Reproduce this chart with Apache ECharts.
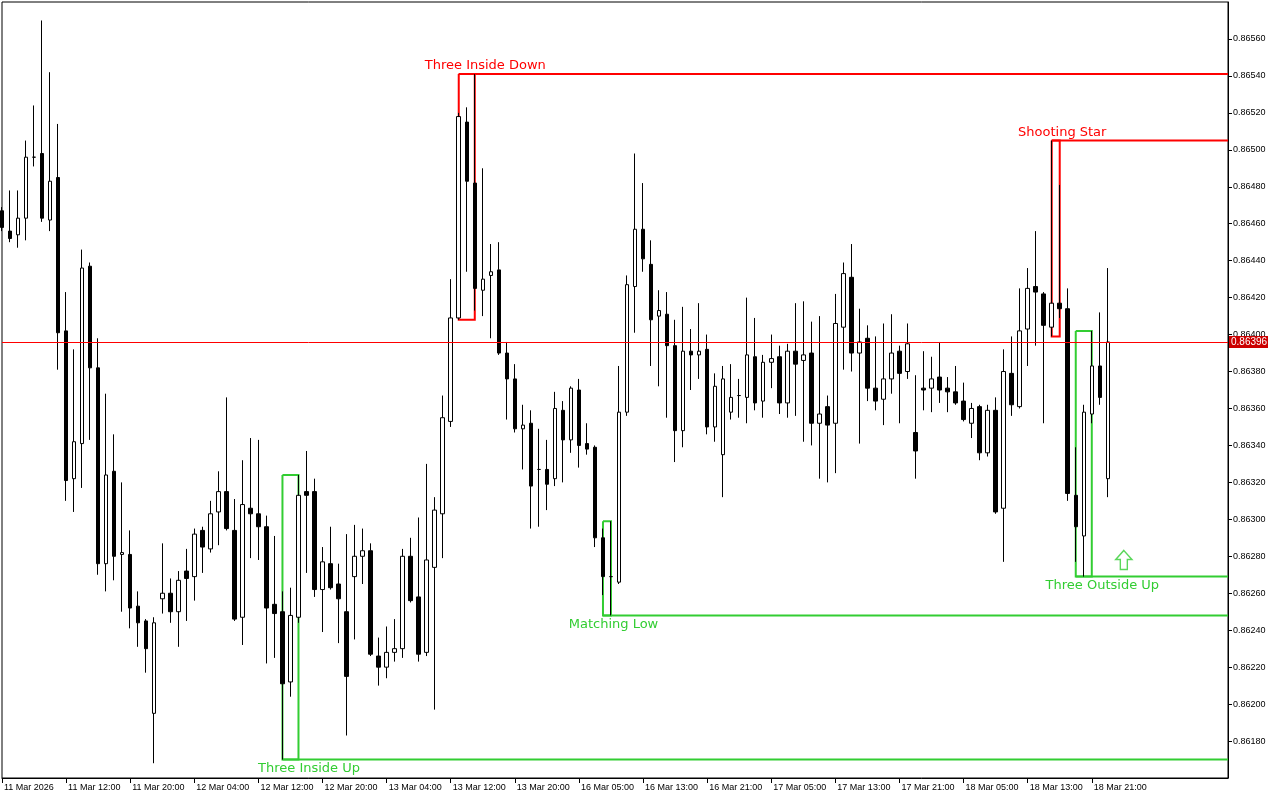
<!DOCTYPE html>
<html>
<head>
<meta charset="utf-8">
<script src="https://cdn.jsdelivr.net/npm/echarts@6/dist/echarts.min.js"></script>
<style>
html,body{margin:0;padding:0;background:#fff;}
#chart{width:1280px;height:800px;}
</style>
</head>
<body>
<div id="chart"></div>
<script>
// ---- time axis (hourly bars, weekend gap) ----
const days = ['11 Mar','12 Mar','13 Mar','16 Mar','17 Mar','18 Mar'];
const dayFirstHour = [4,0,0,0,0,0];
const dayLastHour = [23,23,22,23,23,23];
const tickLabels = ['11 Mar 2026','11 Mar 12:00','11 Mar 20:00','12 Mar 04:00','12 Mar 12:00','12 Mar 20:00',
  '13 Mar 04:00','13 Mar 12:00','13 Mar 20:00','16 Mar 05:00','16 Mar 13:00','16 Mar 21:00',
  '17 Mar 05:00','17 Mar 13:00','17 Mar 21:00','18 Mar 05:00','18 Mar 13:00','18 Mar 21:00'];

// ---- OHLC values ----
const opens = [0.86467,0.86456,0.86454,0.86463,0.86496,0.86498,0.86462,0.86485,0.86402,0.86322,
0.86341,0.86437,0.86382,0.86276,0.86326,0.86281,0.86281,0.86253,0.86245,0.86195,
0.86257,0.86260,0.86250,0.86272,0.86269,0.86294,0.86284,0.86304,0.86315,0.86294,
0.86247,0.86306,0.86303,0.86296,0.86254,0.86250,0.86212,0.86247,0.86315,0.86315,
0.86262,0.86276,0.86265,0.86250,0.86269,0.86280,0.86283,0.86226,0.86220,0.86228,
0.86230,0.86280,0.86258,0.86228,0.86274,0.86303,0.86353,0.86409,0.86515,0.86482,
0.86424,0.86432,0.86435,0.86390,0.86376,0.86349,0.86352,0.86327,0.86327,0.86322,
0.86359,0.86343,0.86370,0.86341,0.86339,0.86290,0.86269,0.86266,0.86358,0.86426,
0.86457,0.86438,0.86410,0.86411,0.86394,0.86348,0.86391,0.86389,0.86392,0.86350,
0.86335,0.86358,0.86367,0.86366,0.86388,0.86364,0.86385,0.86388,0.86363,0.86391,
0.86386,0.86390,0.86352,0.86361,0.86352,0.86404,0.86431,0.86390,0.86398,0.86371,
0.86365,0.86376,0.86391,0.86380,0.86347,0.86371,0.86371,0.86377,0.86371,0.86369,
0.86364,0.86352,0.86361,0.86336,0.86359,0.86306,0.86379,0.86361,0.86403,0.86426,
0.86422,0.86404,0.86417,0.86414,0.86313,0.86291,0.86357,0.86383,0.86322];
const closes = [0.86458,0.86452,0.86463,0.86496,0.86496,0.86463,0.86483,0.86401,0.86321,0.86342,
0.86436,0.86382,0.86276,0.86324,0.86280,0.86282,0.86252,0.86244,0.86230,0.86244,
0.86260,0.86250,0.86267,0.86268,0.86292,0.86285,0.86303,0.86315,0.86295,0.86246,
0.86308,0.86303,0.86296,0.86252,0.86249,0.86211,0.86248,0.86313,0.86313,0.86262,
0.86277,0.86263,0.86257,0.86215,0.86280,0.86283,0.86227,0.86220,0.86228,0.86230,
0.86280,0.86256,0.86227,0.86278,0.86305,0.86355,0.86409,0.86518,0.86483,0.86425,
0.86430,0.86434,0.86390,0.86376,0.86349,0.86351,0.86318,0.86327,0.86319,0.86360,
0.86343,0.86371,0.86340,0.86338,0.86290,0.86269,0.86269,0.86358,0.86427,0.86457,
0.86441,0.86408,0.86413,0.86394,0.86348,0.86391,0.86389,0.86391,0.86350,0.86372,
0.86376,0.86366,0.86367,0.86389,0.86363,0.86385,0.86387,0.86363,0.86391,0.86384,
0.86389,0.86352,0.86357,0.86351,0.86406,0.86433,0.86390,0.86396,0.86371,0.86364,
0.86376,0.86390,0.86379,0.86395,0.86337,0.86370,0.86376,0.86370,0.86369,0.86363,
0.86354,0.86360,0.86336,0.86359,0.86304,0.86380,0.86362,0.86402,0.86425,0.86423,
0.86405,0.86417,0.86414,0.86314,0.86296,0.86358,0.86383,0.86366,0.86396];
const lows = [0.86456,0.86450,0.86447,0.86451,0.86491,0.86461,0.86456,0.86381,0.86310,0.86304,
0.86317,0.86343,0.86270,0.86261,0.86267,0.86250,0.86241,0.86231,0.86217,0.86168,
0.86249,0.86244,0.86231,0.86245,0.86256,0.86271,0.86282,0.86286,0.86294,0.86245,
0.86232,0.86279,0.86278,0.86222,0.86225,0.86170,0.86204,0.86244,0.86271,0.86258,
0.86239,0.86262,0.86233,0.86183,0.86235,0.86265,0.86226,0.86210,0.86214,0.86223,
0.86225,0.86255,0.86223,0.86226,0.86197,0.86279,0.86350,0.86408,0.86434,0.86413,
0.86410,0.86398,0.86389,0.86354,0.86347,0.86327,0.86295,0.86296,0.86305,0.86318,
0.86320,0.86336,0.86328,0.86335,0.86285,0.86259,0.86248,0.86265,0.86356,0.86401,
0.86434,0.86383,0.86372,0.86355,0.86331,0.86339,0.86370,0.86376,0.86346,0.86342,
0.86312,0.86354,0.86355,0.86352,0.86359,0.86355,0.86371,0.86357,0.86355,0.86356,
0.86342,0.86340,0.86322,0.86320,0.86325,0.86381,0.86380,0.86341,0.86364,0.86359,
0.86351,0.86368,0.86352,0.86376,0.86322,0.86359,0.86358,0.86363,0.86358,0.86362,
0.86353,0.86344,0.86332,0.86334,0.86303,0.86277,0.86356,0.86360,0.86383,0.86394,
0.86352,0.86399,0.86409,0.86310,0.86277,0.86269,0.86352,0.86362,0.86312];
const highs = [0.86469,0.86478,0.86478,0.86505,0.86524,0.86570,0.86542,0.86514,0.86423,0.86392,
0.86446,0.86439,0.86398,0.86368,0.86346,0.86320,0.86294,0.86261,0.86246,0.86247,
0.86287,0.86268,0.86272,0.86284,0.86295,0.86296,0.86310,0.86326,0.86366,0.86311,
0.86332,0.86344,0.86343,0.86302,0.86291,0.86261,0.86263,0.86324,0.86337,0.86322,
0.86285,0.86296,0.86276,0.86292,0.86297,0.86295,0.86287,0.86236,0.86242,0.86246,
0.86284,0.86290,0.86301,0.86330,0.86312,0.86367,0.86430,0.86520,0.86523,0.86541,
0.86490,0.86449,0.86450,0.86396,0.86384,0.86362,0.86359,0.86349,0.86343,0.86369,
0.86364,0.86372,0.86376,0.86352,0.86340,0.86295,0.86299,0.86383,0.86432,0.86498,
0.86482,0.86451,0.86424,0.86423,0.86408,0.86415,0.86403,0.86417,0.86400,0.86379,
0.86383,0.86384,0.86376,0.86420,0.86409,0.86389,0.86400,0.86394,0.86395,0.86417,
0.86418,0.86407,0.86410,0.86367,0.86422,0.86439,0.86449,0.86414,0.86405,0.86399,
0.86406,0.86411,0.86394,0.86406,0.86378,0.86391,0.86388,0.86396,0.86377,0.86383,
0.86374,0.86363,0.86362,0.86362,0.86366,0.86392,0.86399,0.86425,0.86436,0.86456,
0.86423,0.86505,0.86481,0.86425,0.86339,0.86362,0.86402,0.86412,0.86436];

// ---- candle patterns ----
const patternNames = ['Three Inside Up','Three Inside Down','Matching Low','Shooting Star','Three Outside Up'];
const patternStart = [35, 57, 75, 131, 134];
const patternEnd   = [37, 59, 76, 132, 136];
const patternBullish = [true, false, true, false, true];

// ---- signal arrow ----
const signalIndex = 140;
const signalPrice = 0.86278;

// ---- y axis ----
const yMin = 0.8616, yMax = 0.8658, yStep = 0.0002;

// build categories
const categories = [];
days.forEach((d, k) => {
  for (let h = dayFirstHour[k]; h <= dayLastHour[k]; h++) {
    categories.push(d + ' ' + (h < 10 ? '0' + h : h) + ':00');
  }
});
let padN = 0;
while (categories.length < 154) categories.push('pad' + (padN++));

const ohlc = opens.map((o, i) => [o, closes[i], lows[i], highs[i]]);
const patternData = patternNames.map((n, k) => {
  let hi = -Infinity, lo = Infinity;
  for (let i = patternStart[k]; i <= patternEnd[k]; i++) {
    hi = Math.max(hi, highs[i]); lo = Math.min(lo, lows[i]);
  }
  return [patternStart[k], patternEnd[k], hi, lo];
});
const lastPrice = closes[closes.length - 1];

const showTick = (index) => index % 8 === 0 && index / 8 < tickLabels.length;

const RED = '#ff0000', GREEN = '#32cd32';

function renderPattern(params, api) {
  const k = params.dataIndex;
  const i0 = api.value(0), i1 = api.value(1);
  const tl = api.coord([i0, api.value(2)]);
  const br = api.coord([i1, api.value(3)]);
  const cs = params.coordSys;
  const xr = cs.x + cs.width;
  const bull = patternBullish[k];
  const color = bull ? GREEN : RED;
  const band = api.size([1, 0])[0];
  const yExt = bull ? br[1] : tl[1];
  const cx = br[0] + 2.5 + band * (i1 - i0 - 1);
  return {
    type: 'group',
    children: [
      { type: 'polyline', shape: { points: [[tl[0], tl[1]], [br[0], tl[1]], [br[0], br[1]], [tl[0], br[1]], [tl[0], tl[1]]] },
        style: { stroke: color, lineWidth: 2, fill: null } },
      { type: 'line', shape: { x1: tl[0], y1: yExt, x2: xr, y2: yExt }, style: { stroke: color, lineWidth: 2 } },
      { type: 'text', style: { text: patternNames[k], x: cx, y: bull ? br[1] + 9 : tl[1] - 8,
        align: 'center', verticalAlign: 'middle', fill: color, font: '13px "DejaVu Sans"' } }
    ]
  };
}

function renderPriceLine(params, api) {
  const cs = params.coordSys;
  const py = Math.round(api.coord([0, api.value(1)])[1]) + 0.5;
  const xr = cs.x + cs.width;
  return {
    type: 'group',
    children: [
      { type: 'line', shape: { x1: cs.x, y1: py, x2: xr, y2: py }, style: { stroke: RED, lineWidth: 1 } },
      { type: 'rect', shape: { x: xr + 1, y: py - 6.5, width: 39, height: 12 }, style: { fill: '#cc0000' } },
      { type: 'text', style: { text: api.value(1).toFixed(5), x: xr + 3, y: py, align: 'left', verticalAlign: 'middle',
        fill: '#ffffff', font: '10px "Liberation Sans"' } }
    ]
  };
}

const chart = echarts.init(document.getElementById('chart'), null, { renderer: 'canvas' });
chart.setOption({
  animation: false,
  backgroundColor: '#fff',
  grid: { left: 2, right: 52, top: 2, bottom: 22, show: true, borderColor: '#000', borderWidth: 1, backgroundColor: '#fff' },
  xAxis: {
    type: 'category', data: categories, boundaryGap: false,
    axisLine: { show: true, lineStyle: { color: '#000', width: 1 } },
    axisTick: { show: true, interval: showTick, length: 5, lineStyle: { color: '#000' } },
    axisLabel: { interval: showTick, formatter: (v, i) => tickLabels[i / 8], align: 'left',
      color: '#000', fontFamily: 'Liberation Sans', fontSize: 9, margin: 5, padding: [0, 0, 0, 2] },
    splitLine: { show: false }
  },
  yAxis: {
    type: 'value', position: 'right', min: yMin, max: yMax, interval: yStep, scale: true,
    axisLine: { show: true, lineStyle: { color: '#000', width: 1 } },
    axisTick: { show: true, length: 4, lineStyle: { color: '#000' } },
    axisLabel: { formatter: v => v.toFixed(5), color: '#000', fontFamily: 'Liberation Sans', fontSize: 9,
      margin: 5, showMinLabel: false, showMaxLabel: false },
    splitLine: { show: false }
  },
  series: [
    {
      type: 'custom', z: 1, renderItem: renderPattern, data: patternData,
      encode: { x: [0, 1], y: [2, 3] }, silent: true
    },
    {
      type: 'candlestick', z: 2, data: ohlc, barWidth: 4,
      itemStyle: { color: '#ffffff', color0: '#000000', borderColor: '#000000', borderColor0: '#000000', borderWidth: 1 }
    },
    {
      type: 'custom', z: 4, renderItem: renderPriceLine, data: [[0, lastPrice]],
      encode: { x: 0, y: 1 }, silent: true, clip: false
    },
    {
      type: 'scatter', z: 3, data: [[signalIndex, signalPrice]], silent: true,
      symbol: 'path://M8,0 L16,9 L11.5,9 L11.5,19 L4.5,19 L4.5,9 L0,9 Z', symbolSize: [16, 19],
      itemStyle: { color: '#ffffff', borderColor: GREEN, borderWidth: 1.5 }
    }
  ]
});
</script>
</body>
</html>
